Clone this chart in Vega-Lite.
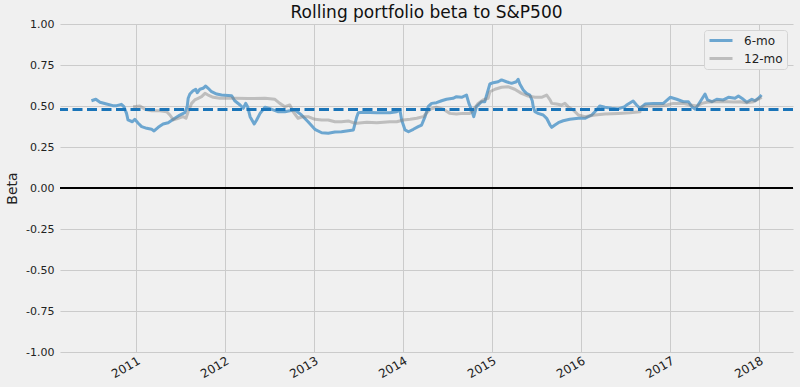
{
  "$schema": "https://vega.github.io/schema/vega-lite/v6.json",
  "width": 733,
  "height": 328,
  "autosize": {"type": "none"},
  "padding": {"left": 60, "top": 24, "right": 7, "bottom": 35},
  "background": "#f0f0f0",
  "title": {"text": "Rolling portfolio beta to S&P500", "fontSize": 17, "font": "DejaVu Sans", "fontWeight": "normal", "anchor": "middle", "frame": "group", "offset": 0, "dy": 17, "baseline": "alphabetic", "color": "#111111"},
  "config": {
    "view": {"stroke": null, "fill": "#f0f0f0"},
    "font": "DejaVu Sans",
    "axis": {"gridColor": "#cbcbcb", "gridWidth": 1, "domain": false, "ticks": false, "labelColor": "#222222", "titleColor": "#222222", "labelFont": "DejaVu Sans", "titleFont": "DejaVu Sans"},
    "legend": {"orient": "top-right", "offset": 6, "symbolType": "M-1,0H3.6", "symbolStrokeWidth": 3, "symbolSize": 100, "labelFontSize": 12, "labelFont": "DejaVu Sans", "labelColor": "#222222", "padding": 4, "fillColor": "#f0f0f0", "strokeColor": "#d4d4d4", "cornerRadius": 3, "rowPadding": 5, "labelOffset": 23}
  },
  "datasets": {
    "rb": [
      {"date": "2010-07-02", "beta": 0.532, "series": "6-mo"},
      {"date": "2010-07-20", "beta": 0.541, "series": "6-mo"},
      {"date": "2010-08-06", "beta": 0.523, "series": "6-mo"},
      {"date": "2010-09-02", "beta": 0.512, "series": "6-mo"},
      {"date": "2010-09-28", "beta": 0.502, "series": "6-mo"},
      {"date": "2010-10-14", "beta": 0.502, "series": "6-mo"},
      {"date": "2010-11-02", "beta": 0.510, "series": "6-mo"},
      {"date": "2010-11-12", "beta": 0.496, "series": "6-mo"},
      {"date": "2010-11-23", "beta": 0.455, "series": "6-mo"},
      {"date": "2010-11-29", "beta": 0.415, "series": "6-mo"},
      {"date": "2010-12-17", "beta": 0.404, "series": "6-mo"},
      {"date": "2010-12-27", "beta": 0.419, "series": "6-mo"},
      {"date": "2011-01-10", "beta": 0.395, "series": "6-mo"},
      {"date": "2011-01-24", "beta": 0.374, "series": "6-mo"},
      {"date": "2011-02-14", "beta": 0.364, "series": "6-mo"},
      {"date": "2011-03-06", "beta": 0.358, "series": "6-mo"},
      {"date": "2011-03-16", "beta": 0.348, "series": "6-mo"},
      {"date": "2011-04-02", "beta": 0.370, "series": "6-mo"},
      {"date": "2011-04-22", "beta": 0.390, "series": "6-mo"},
      {"date": "2011-05-13", "beta": 0.398, "series": "6-mo"},
      {"date": "2011-06-03", "beta": 0.419, "series": "6-mo"},
      {"date": "2011-06-30", "beta": 0.445, "series": "6-mo"},
      {"date": "2011-07-20", "beta": 0.459, "series": "6-mo"},
      {"date": "2011-07-30", "beta": 0.496, "series": "6-mo"},
      {"date": "2011-08-03", "beta": 0.547, "series": "6-mo"},
      {"date": "2011-08-10", "beta": 0.573, "series": "6-mo"},
      {"date": "2011-08-23", "beta": 0.593, "series": "6-mo"},
      {"date": "2011-09-03", "beta": 0.602, "series": "6-mo"},
      {"date": "2011-09-09", "beta": 0.581, "series": "6-mo"},
      {"date": "2011-09-20", "beta": 0.602, "series": "6-mo"},
      {"date": "2011-10-03", "beta": 0.608, "series": "6-mo"},
      {"date": "2011-10-14", "beta": 0.622, "series": "6-mo"},
      {"date": "2011-10-24", "beta": 0.608, "series": "6-mo"},
      {"date": "2011-11-07", "beta": 0.587, "series": "6-mo"},
      {"date": "2011-11-28", "beta": 0.573, "series": "6-mo"},
      {"date": "2011-12-18", "beta": 0.567, "series": "6-mo"},
      {"date": "2012-01-28", "beta": 0.563, "series": "6-mo"},
      {"date": "2012-02-10", "beta": 0.532, "series": "6-mo"},
      {"date": "2012-03-03", "beta": 0.506, "series": "6-mo"},
      {"date": "2012-03-16", "beta": 0.486, "series": "6-mo"},
      {"date": "2012-03-26", "beta": 0.516, "series": "6-mo"},
      {"date": "2012-04-03", "beta": 0.496, "series": "6-mo"},
      {"date": "2012-04-13", "beta": 0.435, "series": "6-mo"},
      {"date": "2012-04-30", "beta": 0.390, "series": "6-mo"},
      {"date": "2012-05-10", "beta": 0.415, "series": "6-mo"},
      {"date": "2012-05-24", "beta": 0.455, "series": "6-mo"},
      {"date": "2012-06-13", "beta": 0.492, "series": "6-mo"},
      {"date": "2012-06-27", "beta": 0.486, "series": "6-mo"},
      {"date": "2012-07-17", "beta": 0.476, "series": "6-mo"},
      {"date": "2012-08-07", "beta": 0.465, "series": "6-mo"},
      {"date": "2012-09-03", "beta": 0.465, "series": "6-mo"},
      {"date": "2012-09-23", "beta": 0.471, "series": "6-mo"},
      {"date": "2012-10-14", "beta": 0.476, "series": "6-mo"},
      {"date": "2012-11-10", "beta": 0.445, "series": "6-mo"},
      {"date": "2012-12-07", "beta": 0.404, "series": "6-mo"},
      {"date": "2013-01-04", "beta": 0.358, "series": "6-mo"},
      {"date": "2013-02-01", "beta": 0.337, "series": "6-mo"},
      {"date": "2013-02-28", "beta": 0.334, "series": "6-mo"},
      {"date": "2013-03-27", "beta": 0.341, "series": "6-mo"},
      {"date": "2013-04-23", "beta": 0.343, "series": "6-mo"},
      {"date": "2013-05-21", "beta": 0.349, "series": "6-mo"},
      {"date": "2013-06-11", "beta": 0.354, "series": "6-mo"},
      {"date": "2013-06-25", "beta": 0.435, "series": "6-mo"},
      {"date": "2013-07-01", "beta": 0.459, "series": "6-mo"},
      {"date": "2013-07-22", "beta": 0.462, "series": "6-mo"},
      {"date": "2013-09-15", "beta": 0.459, "series": "6-mo"},
      {"date": "2013-11-08", "beta": 0.459, "series": "6-mo"},
      {"date": "2013-12-06", "beta": 0.465, "series": "6-mo"},
      {"date": "2013-12-19", "beta": 0.476, "series": "6-mo"},
      {"date": "2013-12-26", "beta": 0.415, "series": "6-mo"},
      {"date": "2014-01-09", "beta": 0.354, "series": "6-mo"},
      {"date": "2014-01-23", "beta": 0.343, "series": "6-mo"},
      {"date": "2014-02-12", "beta": 0.358, "series": "6-mo"},
      {"date": "2014-03-04", "beta": 0.374, "series": "6-mo"},
      {"date": "2014-03-18", "beta": 0.384, "series": "6-mo"},
      {"date": "2014-04-01", "beta": 0.435, "series": "6-mo"},
      {"date": "2014-04-14", "beta": 0.496, "series": "6-mo"},
      {"date": "2014-04-28", "beta": 0.516, "series": "6-mo"},
      {"date": "2014-05-18", "beta": 0.520, "series": "6-mo"},
      {"date": "2014-06-08", "beta": 0.532, "series": "6-mo"},
      {"date": "2014-06-28", "beta": 0.541, "series": "6-mo"},
      {"date": "2014-07-25", "beta": 0.547, "series": "6-mo"},
      {"date": "2014-08-08", "beta": 0.557, "series": "6-mo"},
      {"date": "2014-08-29", "beta": 0.553, "series": "6-mo"},
      {"date": "2014-09-18", "beta": 0.567, "series": "6-mo"},
      {"date": "2014-09-28", "beta": 0.516, "series": "6-mo"},
      {"date": "2014-10-09", "beta": 0.476, "series": "6-mo"},
      {"date": "2014-10-18", "beta": 0.435, "series": "6-mo"},
      {"date": "2014-10-29", "beta": 0.496, "series": "6-mo"},
      {"date": "2014-11-19", "beta": 0.526, "series": "6-mo"},
      {"date": "2014-12-02", "beta": 0.526, "series": "6-mo"},
      {"date": "2014-12-16", "beta": 0.598, "series": "6-mo"},
      {"date": "2014-12-23", "beta": 0.634, "series": "6-mo"},
      {"date": "2015-01-06", "beta": 0.642, "series": "6-mo"},
      {"date": "2015-01-26", "beta": 0.648, "series": "6-mo"},
      {"date": "2015-02-09", "beta": 0.659, "series": "6-mo"},
      {"date": "2015-03-01", "beta": 0.648, "series": "6-mo"},
      {"date": "2015-03-22", "beta": 0.638, "series": "6-mo"},
      {"date": "2015-04-11", "beta": 0.648, "series": "6-mo"},
      {"date": "2015-04-18", "beta": 0.663, "series": "6-mo"},
      {"date": "2015-04-25", "beta": 0.634, "series": "6-mo"},
      {"date": "2015-05-09", "beta": 0.598, "series": "6-mo"},
      {"date": "2015-05-22", "beta": 0.577, "series": "6-mo"},
      {"date": "2015-06-05", "beta": 0.567, "series": "6-mo"},
      {"date": "2015-06-15", "beta": 0.532, "series": "6-mo"},
      {"date": "2015-06-19", "beta": 0.496, "series": "6-mo"},
      {"date": "2015-06-26", "beta": 0.465, "series": "6-mo"},
      {"date": "2015-07-09", "beta": 0.455, "series": "6-mo"},
      {"date": "2015-07-30", "beta": 0.445, "series": "6-mo"},
      {"date": "2015-08-13", "beta": 0.425, "series": "6-mo"},
      {"date": "2015-08-27", "beta": 0.384, "series": "6-mo"},
      {"date": "2015-09-03", "beta": 0.370, "series": "6-mo"},
      {"date": "2015-09-16", "beta": 0.384, "series": "6-mo"},
      {"date": "2015-09-30", "beta": 0.398, "series": "6-mo"},
      {"date": "2015-10-20", "beta": 0.410, "series": "6-mo"},
      {"date": "2015-11-16", "beta": 0.419, "series": "6-mo"},
      {"date": "2015-12-21", "beta": 0.425, "series": "6-mo"},
      {"date": "2016-01-17", "beta": 0.425, "series": "6-mo"},
      {"date": "2016-02-14", "beta": 0.445, "series": "6-mo"},
      {"date": "2016-03-05", "beta": 0.476, "series": "6-mo"},
      {"date": "2016-03-18", "beta": 0.500, "series": "6-mo"},
      {"date": "2016-04-08", "beta": 0.492, "series": "6-mo"},
      {"date": "2016-05-06", "beta": 0.486, "series": "6-mo"},
      {"date": "2016-06-02", "beta": 0.482, "series": "6-mo"},
      {"date": "2016-06-29", "beta": 0.496, "series": "6-mo"},
      {"date": "2016-07-06", "beta": 0.506, "series": "6-mo"},
      {"date": "2016-08-02", "beta": 0.530, "series": "6-mo"},
      {"date": "2016-08-16", "beta": 0.506, "series": "6-mo"},
      {"date": "2016-08-30", "beta": 0.486, "series": "6-mo"},
      {"date": "2016-09-20", "beta": 0.512, "series": "6-mo"},
      {"date": "2016-10-24", "beta": 0.516, "series": "6-mo"},
      {"date": "2016-12-04", "beta": 0.516, "series": "6-mo"},
      {"date": "2017-01-01", "beta": 0.553, "series": "6-mo"},
      {"date": "2017-01-28", "beta": 0.541, "series": "6-mo"},
      {"date": "2017-02-24", "beta": 0.526, "series": "6-mo"},
      {"date": "2017-03-17", "beta": 0.526, "series": "6-mo"},
      {"date": "2017-03-31", "beta": 0.496, "series": "6-mo"},
      {"date": "2017-04-14", "beta": 0.480, "series": "6-mo"},
      {"date": "2017-05-04", "beta": 0.526, "series": "6-mo"},
      {"date": "2017-05-24", "beta": 0.573, "series": "6-mo"},
      {"date": "2017-06-03", "beta": 0.537, "series": "6-mo"},
      {"date": "2017-06-21", "beta": 0.526, "series": "6-mo"},
      {"date": "2017-07-11", "beta": 0.541, "series": "6-mo"},
      {"date": "2017-08-07", "beta": 0.537, "series": "6-mo"},
      {"date": "2017-08-28", "beta": 0.553, "series": "6-mo"},
      {"date": "2017-09-24", "beta": 0.547, "series": "6-mo"},
      {"date": "2017-10-08", "beta": 0.561, "series": "6-mo"},
      {"date": "2017-10-28", "beta": 0.541, "series": "6-mo"},
      {"date": "2017-11-11", "beta": 0.523, "series": "6-mo"},
      {"date": "2017-12-02", "beta": 0.541, "series": "6-mo"},
      {"date": "2017-12-15", "beta": 0.532, "series": "6-mo"},
      {"date": "2017-12-29", "beta": 0.547, "series": "6-mo"},
      {"date": "2018-01-11", "beta": 0.567, "series": "6-mo"},
      {"date": "2010-12-20", "beta": 0.496, "series": "12-mo"},
      {"date": "2011-01-17", "beta": 0.500, "series": "12-mo"},
      {"date": "2011-02-07", "beta": 0.480, "series": "12-mo"},
      {"date": "2011-03-06", "beta": 0.471, "series": "12-mo"},
      {"date": "2011-04-09", "beta": 0.471, "series": "12-mo"},
      {"date": "2011-05-07", "beta": 0.465, "series": "12-mo"},
      {"date": "2011-05-20", "beta": 0.445, "series": "12-mo"},
      {"date": "2011-06-03", "beta": 0.415, "series": "12-mo"},
      {"date": "2011-06-23", "beta": 0.425, "series": "12-mo"},
      {"date": "2011-07-13", "beta": 0.435, "series": "12-mo"},
      {"date": "2011-07-25", "beta": 0.425, "series": "12-mo"},
      {"date": "2011-08-03", "beta": 0.465, "series": "12-mo"},
      {"date": "2011-08-17", "beta": 0.516, "series": "12-mo"},
      {"date": "2011-08-30", "beta": 0.537, "series": "12-mo"},
      {"date": "2011-09-13", "beta": 0.547, "series": "12-mo"},
      {"date": "2011-09-27", "beta": 0.557, "series": "12-mo"},
      {"date": "2011-10-11", "beta": 0.577, "series": "12-mo"},
      {"date": "2011-10-24", "beta": 0.567, "series": "12-mo"},
      {"date": "2011-11-14", "beta": 0.553, "series": "12-mo"},
      {"date": "2011-12-11", "beta": 0.547, "series": "12-mo"},
      {"date": "2012-01-01", "beta": 0.547, "series": "12-mo"},
      {"date": "2012-02-10", "beta": 0.548, "series": "12-mo"},
      {"date": "2012-04-05", "beta": 0.546, "series": "12-mo"},
      {"date": "2012-06-13", "beta": 0.547, "series": "12-mo"},
      {"date": "2012-07-24", "beta": 0.541, "series": "12-mo"},
      {"date": "2012-08-13", "beta": 0.516, "series": "12-mo"},
      {"date": "2012-09-03", "beta": 0.496, "series": "12-mo"},
      {"date": "2012-09-23", "beta": 0.506, "series": "12-mo"},
      {"date": "2012-10-07", "beta": 0.465, "series": "12-mo"},
      {"date": "2012-10-27", "beta": 0.425, "series": "12-mo"},
      {"date": "2012-11-17", "beta": 0.435, "series": "12-mo"},
      {"date": "2012-12-07", "beta": 0.435, "series": "12-mo"},
      {"date": "2013-01-04", "beta": 0.419, "series": "12-mo"},
      {"date": "2013-02-01", "beta": 0.415, "series": "12-mo"},
      {"date": "2013-02-28", "beta": 0.415, "series": "12-mo"},
      {"date": "2013-03-27", "beta": 0.404, "series": "12-mo"},
      {"date": "2013-04-23", "beta": 0.404, "series": "12-mo"},
      {"date": "2013-05-21", "beta": 0.409, "series": "12-mo"},
      {"date": "2013-06-11", "beta": 0.398, "series": "12-mo"},
      {"date": "2013-06-25", "beta": 0.395, "series": "12-mo"},
      {"date": "2013-08-05", "beta": 0.401, "series": "12-mo"},
      {"date": "2013-09-15", "beta": 0.398, "series": "12-mo"},
      {"date": "2013-11-08", "beta": 0.404, "series": "12-mo"},
      {"date": "2013-12-06", "beta": 0.404, "series": "12-mo"},
      {"date": "2014-01-02", "beta": 0.415, "series": "12-mo"},
      {"date": "2014-01-30", "beta": 0.419, "series": "12-mo"},
      {"date": "2014-02-26", "beta": 0.425, "series": "12-mo"},
      {"date": "2014-03-25", "beta": 0.435, "series": "12-mo"},
      {"date": "2014-04-21", "beta": 0.480, "series": "12-mo"},
      {"date": "2014-05-18", "beta": 0.492, "series": "12-mo"},
      {"date": "2014-06-15", "beta": 0.480, "series": "12-mo"},
      {"date": "2014-07-12", "beta": 0.455, "series": "12-mo"},
      {"date": "2014-08-08", "beta": 0.451, "series": "12-mo"},
      {"date": "2014-09-04", "beta": 0.455, "series": "12-mo"},
      {"date": "2014-10-02", "beta": 0.455, "series": "12-mo"},
      {"date": "2014-10-15", "beta": 0.476, "series": "12-mo"},
      {"date": "2014-11-05", "beta": 0.516, "series": "12-mo"},
      {"date": "2014-11-25", "beta": 0.537, "series": "12-mo"},
      {"date": "2014-12-16", "beta": 0.547, "series": "12-mo"},
      {"date": "2014-12-23", "beta": 0.587, "series": "12-mo"},
      {"date": "2015-01-13", "beta": 0.602, "series": "12-mo"},
      {"date": "2015-02-09", "beta": 0.614, "series": "12-mo"},
      {"date": "2015-03-07", "beta": 0.618, "series": "12-mo"},
      {"date": "2015-04-04", "beta": 0.602, "series": "12-mo"},
      {"date": "2015-05-02", "beta": 0.577, "series": "12-mo"},
      {"date": "2015-05-29", "beta": 0.561, "series": "12-mo"},
      {"date": "2015-06-26", "beta": 0.553, "series": "12-mo"},
      {"date": "2015-07-23", "beta": 0.553, "series": "12-mo"},
      {"date": "2015-08-13", "beta": 0.567, "series": "12-mo"},
      {"date": "2015-08-27", "beta": 0.537, "series": "12-mo"},
      {"date": "2015-09-03", "beta": 0.516, "series": "12-mo"},
      {"date": "2015-09-23", "beta": 0.512, "series": "12-mo"},
      {"date": "2015-10-13", "beta": 0.506, "series": "12-mo"},
      {"date": "2015-10-27", "beta": 0.516, "series": "12-mo"},
      {"date": "2015-11-09", "beta": 0.496, "series": "12-mo"},
      {"date": "2015-11-30", "beta": 0.476, "series": "12-mo"},
      {"date": "2015-12-21", "beta": 0.445, "series": "12-mo"},
      {"date": "2016-01-17", "beta": 0.435, "series": "12-mo"},
      {"date": "2016-02-27", "beta": 0.445, "series": "12-mo"},
      {"date": "2016-04-08", "beta": 0.451, "series": "12-mo"},
      {"date": "2016-06-02", "beta": 0.455, "series": "12-mo"},
      {"date": "2016-07-20", "beta": 0.459, "series": "12-mo"},
      {"date": "2016-08-30", "beta": 0.465, "series": "12-mo"},
      {"date": "2016-09-02", "beta": 0.492, "series": "12-mo"},
      {"date": "2016-09-27", "beta": 0.500, "series": "12-mo"},
      {"date": "2016-11-20", "beta": 0.500, "series": "12-mo"},
      {"date": "2016-12-18", "beta": 0.506, "series": "12-mo"},
      {"date": "2017-01-14", "beta": 0.516, "series": "12-mo"},
      {"date": "2017-02-24", "beta": 0.516, "series": "12-mo"},
      {"date": "2017-03-24", "beta": 0.506, "series": "12-mo"},
      {"date": "2017-04-21", "beta": 0.500, "series": "12-mo"},
      {"date": "2017-05-11", "beta": 0.516, "series": "12-mo"},
      {"date": "2017-05-31", "beta": 0.523, "series": "12-mo"},
      {"date": "2017-06-27", "beta": 0.526, "series": "12-mo"},
      {"date": "2017-08-07", "beta": 0.527, "series": "12-mo"},
      {"date": "2017-09-17", "beta": 0.525, "series": "12-mo"},
      {"date": "2017-10-15", "beta": 0.526, "series": "12-mo"},
      {"date": "2017-11-11", "beta": 0.520, "series": "12-mo"},
      {"date": "2017-12-09", "beta": 0.526, "series": "12-mo"},
      {"date": "2018-01-05", "beta": 0.547, "series": "12-mo"},
      {"date": "2018-01-11", "beta": 0.553, "series": "12-mo"}
    ]
  },
  "layer": [
    {
      "data": {"name": "rb"},
      "transform": [{"filter": "datum.series === '6-mo'"}],
      "mark": {"type": "line", "strokeWidth": 3, "strokeJoin": "round"},
      "encoding": {
        "x": {"field": "date", "type": "temporal", "scale": {"domain": ["2010-02-23", "2018-05-20"]},
              "axis": {"title": null, "grid": true, "values": [{"year": 2011}, {"year": 2012}, {"year": 2013}, {"year": 2014}, {"year": 2015}, {"year": 2016}, {"year": 2017}, {"year": 2018}], "format": "%Y", "labelAngle": -30, "labelAlign": "right", "labelBaseline": "top", "labelFontSize": 12, "labelPadding": 3}},
        "y": {"field": "beta", "type": "quantitative", "scale": {"domain": [-1, 1], "nice": false},
              "axis": {"title": "Beta", "grid": true, "values": [-1, -0.75, -0.5, -0.25, 0, 0.25, 0.5, 0.75, 1], "labelExpr": "replace(format(datum.value, '.2f'), '\u2212', '-')", "labelFontSize": 11, "labelPadding": 6, "titleFontSize": 14, "titleFontWeight": "normal", "titlePadding": 6}},
        "color": {"field": "series", "type": "nominal", "title": null, "scale": {"domain": ["6-mo", "12-mo"], "range": ["#6ca6d0", "#808080"]}},
        "opacity": {"field": "series", "type": "nominal", "title": null, "scale": {"domain": ["6-mo", "12-mo"], "range": [1, 0.45]}}
      }
    },
    {
      "data": {"name": "rb"},
      "transform": [{"filter": "datum.series === '12-mo'"}],
      "mark": {"type": "line", "strokeWidth": 3, "strokeJoin": "round"},
      "encoding": {
        "x": {"field": "date", "type": "temporal"},
        "y": {"field": "beta", "type": "quantitative"},
        "color": {"field": "series", "type": "nominal", "title": null},
        "opacity": {"field": "series", "type": "nominal", "title": null}
      }
    },
    {
      "data": {"values": [{"beta": 0.479}]},
      "mark": {"type": "rule", "strokeDash": [10, 4.5], "strokeWidth": 3, "color": "#1a74b8"},
      "encoding": {"y": {"field": "beta", "type": "quantitative"}}
    },
    {
      "data": {"values": [{"beta": 0}]},
      "mark": {"type": "rule", "strokeWidth": 2, "color": "#000000"},
      "encoding": {"y": {"field": "beta", "type": "quantitative"}}
    }
  ]
}
